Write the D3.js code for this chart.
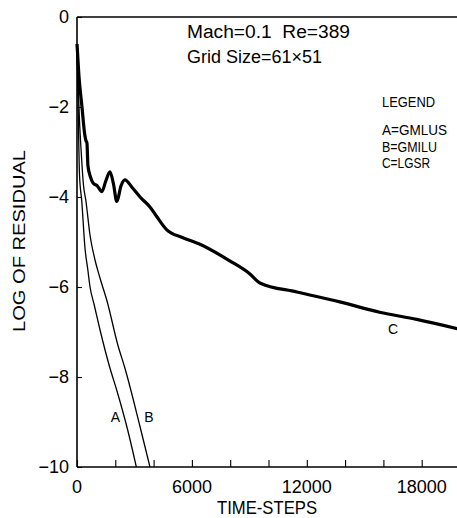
<!DOCTYPE html>
<html>
<head>
<meta charset="utf-8">
<script src="https://cdn.jsdelivr.net/npm/d3@7"></script>
<style>
  html, body { margin: 0; padding: 0; background: #fff; }
  svg { display: block; }
  text { font-family: "Liberation Sans", Arial, sans-serif; fill: #000; }
</style>
</head>
<body>
<svg id="chart" width="457" height="518"></svg>
<script>
// ---- data (time-steps, log10 residual) ----
const seriesA_t = [0, 40, 80, 130, 250, 420, 560, 680, 900, 1200, 1720, 2080, 2660, 3100];
const seriesA_v = [-0.6, -1.5, -2.5, -3.5, -4.1, -5.15, -5.6, -6.0, -6.4, -6.95, -7.8, -8.3, -9.2, -10];

const seriesB_t = [0, 60, 130, 220, 330, 470, 680, 940, 1200, 1560, 2140, 2500, 3290, 3810];
const seriesB_v = [-0.6, -1.5, -2.3, -3.0, -3.7, -4.1, -4.85, -5.4, -5.8, -6.3, -7.3, -7.8, -9.1, -10];

const seriesC_t = [0, 100, 260, 400, 470, 520, 570, 700, 840, 1050, 1300, 1500, 1720, 1900, 2080, 2300, 2500, 2900, 3290, 3810, 4170, 4690, 5500, 6420, 7980, 9000, 9550, 11480, 13720, 15800, 17740, 19900];
const seriesC_v = [-0.6, -1.3, -2.0, -2.6, -2.75, -2.8, -3.3, -3.55, -3.69, -3.75, -3.88, -3.65, -3.44, -3.7, -4.1, -3.75, -3.62, -3.8, -4.0, -4.22, -4.44, -4.73, -4.9, -5.05, -5.42, -5.7, -5.91, -6.11, -6.33, -6.56, -6.72, -6.93];

const xTickValues = [0, 2000, 4000, 6000, 8000, 10000, 12000, 14000, 16000, 18000];
const xTickLabels = ["0", "6000", "12000", "18000"];
const yTickValues = [0, -2, -4, -6, -8, -10];
const yTickLabels = ["0", "−2", "−4", "−6", "−8", "−10"];

const titleLines = ["Mach=0.1  Re=389", "Grid Size=61×51"];
const legendTitle = "LEGEND";
const legendItems = ["A=GMLUS", "B=GMILU", "C=LGSR"];
const curveLabels = ["A", "B", "C"];
const curveLabelPos = [[2000, -9.0], [3750, -9.0], [16500, -7.05]];

// ---- layout ----
const svg = d3.select("#chart");
const x = d3.scaleLinear().domain([0, 20000]).range([77, 460]);
const y = d3.scaleLinear().domain([-10, 0]).range([467, 17]);

// frame lines
svg.append("line").attr("x1", x(0)).attr("x2", 457).attr("y1", y(0)).attr("y2", y(0))
  .attr("stroke", "#000").attr("stroke-width", 1.6);

// x axis
const xAxis = d3.axisBottom(x).tickValues(xTickValues).tickSize(-7).tickFormat("");
const gx = svg.append("g").attr("transform", `translate(0,${y(-10)})`).call(xAxis);
gx.select(".domain").attr("stroke", "#000").attr("stroke-width", 1.6).attr("d", `M${x(0)},0H457`);
gx.selectAll(".tick line").attr("stroke", "#000").attr("stroke-width", 1.1);

svg.append("g").selectAll("text").data(xTickLabels).join("text")
  .attr("x", d => x(+d)).attr("y", 493)
  .attr("text-anchor", "middle").attr("font-size", 18).text(d => d);

// y axis
const yAxis = d3.axisLeft(y).tickValues(yTickValues).tickSize(-5).tickFormat("");
const gy = svg.append("g").attr("transform", `translate(${x(0)},0)`).call(yAxis);
gy.select(".domain").attr("stroke", "#000").attr("stroke-width", 1.6).attr("d", `M0,${y(0)}V${y(-10)}`);
gy.selectAll(".tick line").attr("stroke", "#000").attr("stroke-width", 1.1);

svg.append("g").selectAll("text").data(yTickValues).join("text")
  .attr("x", 69).attr("y", d => y(d)).attr("dy", "0.36em")
  .attr("text-anchor", "end").attr("font-size", 18)
  .text((d, i) => yTickLabels[i]);

// axis titles
svg.append("text").attr("transform", "translate(25,241) rotate(-90)")
  .attr("text-anchor", "middle").attr("font-size", 17)
  .attr("textLength", 182).attr("lengthAdjust", "spacingAndGlyphs")
  .text("LOG OF RESIDUAL");
svg.append("text").attr("x", 267).attr("y", 514)
  .attr("text-anchor", "middle").attr("font-size", 18)
  .attr("textLength", 100).attr("lengthAdjust", "spacingAndGlyphs")
  .text("TIME-STEPS");

// title block
const titleLens = [163, 135];
svg.append("g").selectAll("text").data(titleLines).join("text")
  .attr("x", 187).attr("y", (d, i) => 38 + i * 25)
  .attr("font-size", 18).style("white-space", "pre")
  .attr("textLength", (d, i) => titleLens[i]).attr("lengthAdjust", "spacingAndGlyphs")
  .text(d => d);

// legend
svg.append("text").attr("x", 382).attr("y", 107).attr("font-size", 14)
  .attr("textLength", 53).attr("lengthAdjust", "spacingAndGlyphs").text(legendTitle);
const legLens = [65, 55, 48];
svg.append("g").selectAll("text").data(legendItems).join("text")
  .attr("x", 382).attr("y", (d, i) => 135 + i * 16.5).attr("font-size", 14)
  .attr("textLength", (d, i) => legLens[i]).attr("lengthAdjust", "spacingAndGlyphs")
  .text(d => d);

// curves
const line = d3.line().curve(d3.curveMonotoneX).x(d => x(d[0])).y(d => y(d[1]));
const zip = (t, v) => t.map((d, i) => [d, v[i]]);
svg.append("path").datum(zip(seriesA_t, seriesA_v)).attr("d", line)
  .attr("fill", "none").attr("stroke", "#000").attr("stroke-width", 1.3);
svg.append("path").datum(zip(seriesB_t, seriesB_v)).attr("d", line)
  .attr("fill", "none").attr("stroke", "#000").attr("stroke-width", 1.3);
svg.append("path").datum(zip(seriesC_t, seriesC_v)).attr("d", line)
  .attr("fill", "none").attr("stroke", "#000").attr("stroke-width", 3.2)
  .attr("stroke-linejoin", "round");

// curve labels
svg.append("g").selectAll("text").data(curveLabels).join("text")
  .attr("x", (d, i) => x(curveLabelPos[i][0])).attr("y", (d, i) => y(curveLabelPos[i][1]))
  .attr("text-anchor", "middle").attr("font-size", 14).text(d => d);
</script>
</body>
</html>
